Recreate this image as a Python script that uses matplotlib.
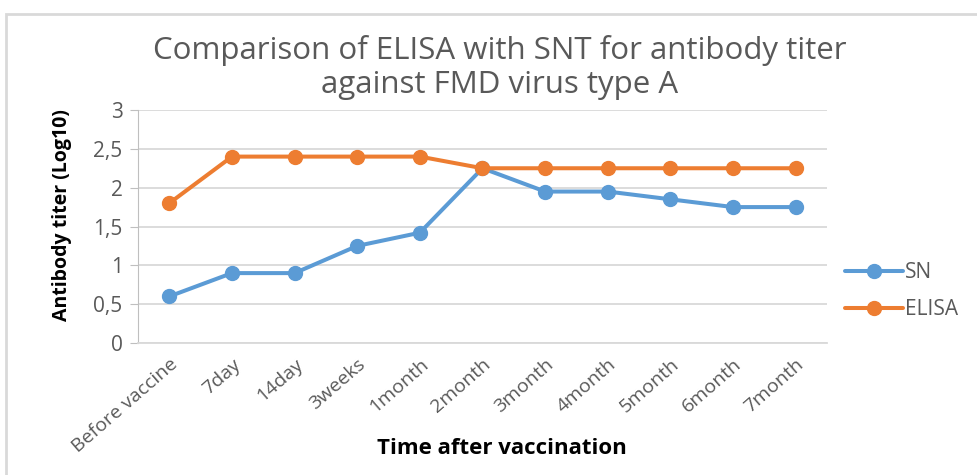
import matplotlib.pyplot as plt
from matplotlib.patches import Rectangle
from matplotlib.ticker import FuncFormatter

categories = ["Before vaccine", "7day", "14day", "3weeks", "1month", "2month",
              "3month", "4month", "5month", "6month", "7month"]
sn = [0.6, 0.9, 0.9, 1.25, 1.42, 2.25, 1.95, 1.95, 1.85, 1.75, 1.75]
elisa = [1.8, 2.4, 2.4, 2.4, 2.4, 2.25, 2.25, 2.25, 2.25, 2.25, 2.25]

plt.rcParams["font.family"] = ["Open Sans", "DejaVu Sans"]
grey = "#595959"
W, H = 978, 475

fig = plt.figure(figsize=(W / 100, H / 100), dpi=100)
ax = fig.add_axes([138 / W, 1 - 343 / H, (827 - 138) / W, (343 - 110) / H])

x = list(range(len(categories)))
ax.plot(x, sn, "o-", color="#5B9BD5", linewidth=2.9, markersize=10, label="SN",
        solid_capstyle="round", zorder=3)
ax.plot(x, elisa, "o-", color="#ED7D31", linewidth=2.9, markersize=10, label="ELISA",
        solid_capstyle="round", zorder=3)

ax.set_xlim(-0.5, len(categories) - 0.5)
ax.set_ylim(0, 3)
ax.set_yticks([0, 0.5, 1, 1.5, 2, 2.5, 3])
ax.yaxis.set_major_formatter(FuncFormatter(lambda v, p: f"{v:g}".replace(".", ",")))
ax.grid(axis="y", color="#D9D9D9", linewidth=1.3)
ax.set_axisbelow(True)
for s in ["top", "right"]:
    ax.spines[s].set_visible(False)
ax.spines["left"].set_color("#BFBFBF")
ax.spines["bottom"].set_color("#D9D9D9")
ax.spines["bottom"].set_linewidth(1.3)
ax.tick_params(axis="y", colors="#BFBFBF", labelcolor=grey, labelsize=15, length=6, pad=5)
ax.tick_params(axis="x", length=0, labelcolor=grey, labelsize=14, pad=9)

ax.set_xticks(x)
ax.set_xticklabels(categories, rotation=41, ha="right", rotation_mode="anchor")

fig.text(62 / W, 1 - 215 / H, "Antibody titer (Log10)", rotation=90, fontsize=14,
         fontweight="bold", color="black", ha="center", va="center")
fig.text(502 / W, 1 - 448 / H, "Time after vaccination", fontsize=16,
         fontweight="bold", color="black", ha="center", va="center")

fig.text(500 / W, 1 - 50 / H, "Comparison of ELISA with SNT for antibody titer",
         fontsize=22.5, color=grey, ha="center", va="center")
fig.text(500 / W, 1 - 85 / H, "against FMD virus type A",
         fontsize=22.5, color=grey, ha="center", va="center")

ax.legend(loc="center left", bbox_to_anchor=(845 / W, 1 - 291 / H),
          bbox_transform=fig.transFigure, frameon=False, borderaxespad=0,
          borderpad=0, fontsize=15, labelcolor=grey, handlelength=2.8,
          labelspacing=0.75, handletextpad=0.1)

fig.patches.append(Rectangle((6 / W, -0.1), 1.2, 1 - 14 / H + 0.1,
                             transform=fig.transFigure, fill=False,
                             edgecolor="#D9D9D9", linewidth=2))

fig.savefig("out.png", dpi=100)
